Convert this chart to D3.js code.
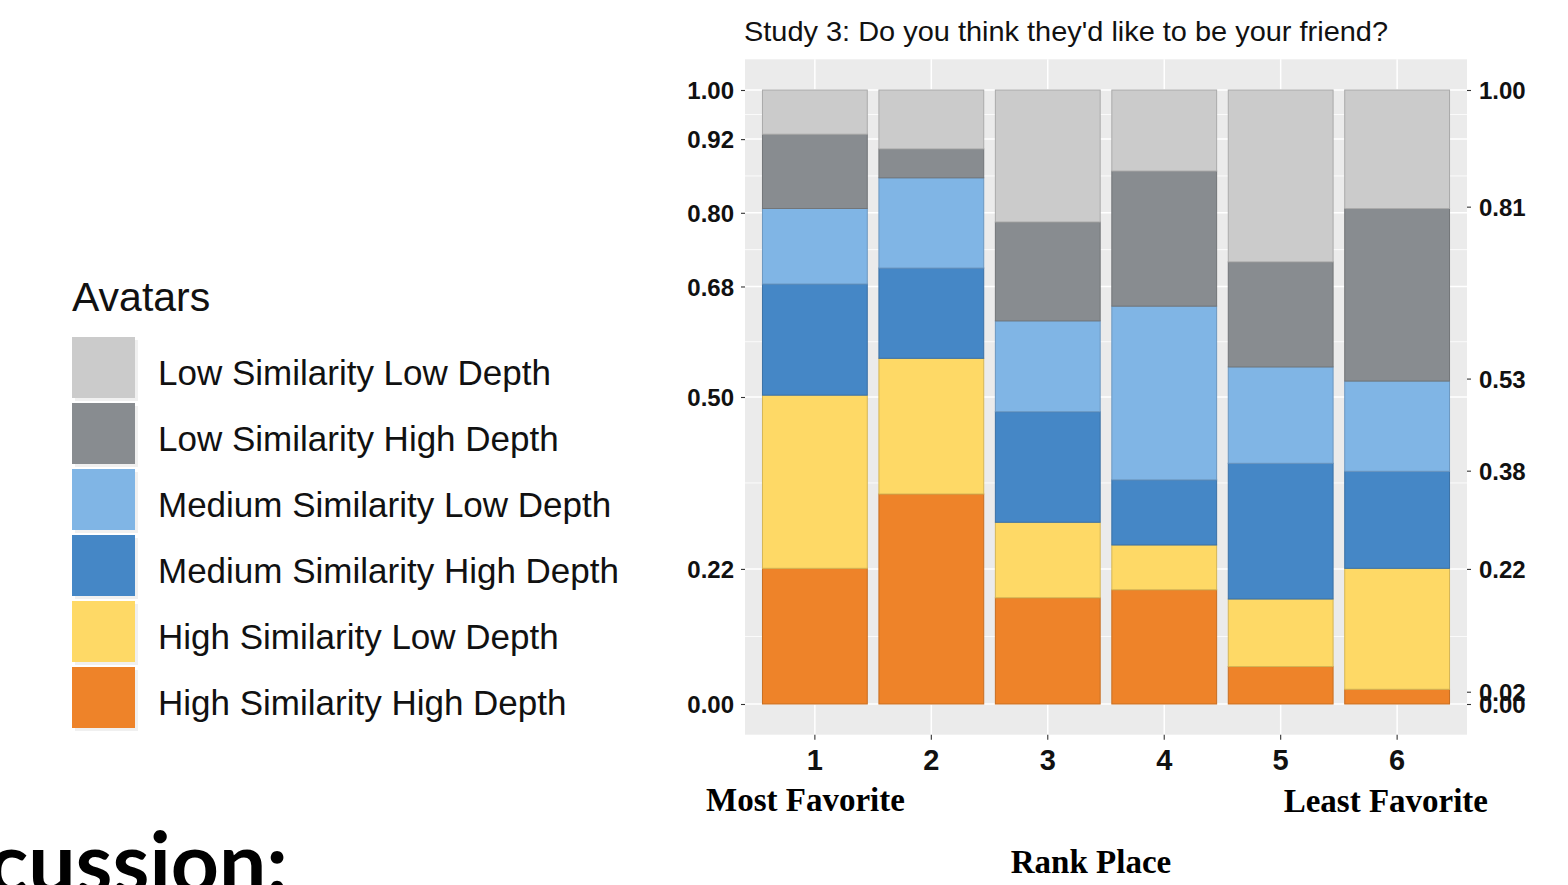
<!DOCTYPE html>
<html>
<head>
<meta charset="utf-8">
<script src="https://cdn.jsdelivr.net/npm/d3@7"></script>
<style>
  html, body { margin: 0; padding: 0; background: #ffffff; }
  svg { display: block; }
</style>
</head>
<body>
<svg id="chart" width="1568" height="885"></svg>
<script>
// ---------- data ----------
const ranks = ["1", "2", "3", "4", "5", "6"];
const seriesNames = [
  "High Similarity High Depth",
  "High Similarity Low Depth",
  "Medium Similarity High Depth",
  "Medium Similarity Low Depth",
  "Low Similarity High Depth",
  "Low Similarity Low Depth"
];
const hsHighDepth = [0.221, 0.342, 0.173, 0.186, 0.061, 0.024];
const hsLowDepth  = [0.282, 0.221, 0.123, 0.073, 0.110, 0.197];
const msHighDepth = [0.181, 0.147, 0.180, 0.106, 0.221, 0.158];
const msLowDepth  = [0.123, 0.147, 0.148, 0.283, 0.157, 0.147];
const lsHighDepth = [0.121, 0.047, 0.161, 0.220, 0.171, 0.281];
const lsLowDepth  = [0.072, 0.096, 0.215, 0.132, 0.280, 0.193];
const seriesColors = ["#EE8329", "#FED966", "#4587C6", "#80B5E5", "#888C90", "#CBCBCB"];
const leftTicks  = [0.00, 0.22, 0.50, 0.68, 0.80, 0.92, 1.00];
const rightTicks = [0.00, 0.02, 0.22, 0.38, 0.53, 0.81, 1.00];
const titleText = "Study 3: Do you think they'd like to be your friend?";
const legendTitle = "Avatars";
const xTitle = "Rank Place";
const leftNote = "Most Favorite";
const rightNote = "Least Favorite";
const slideText = "Discussion:";

// ---------- build table ----------
const seriesValues = [hsHighDepth, hsLowDepth, msHighDepth, msLowDepth, lsHighDepth, lsLowDepth];
const table = ranks.map((r, i) => {
  const row = { rank: r };
  seriesNames.forEach((s, j) => { row[s] = seriesValues[j][i]; });
  return row;
});
const stacked = d3.stack().keys(seriesNames)(table);
const color = d3.scaleOrdinal().domain(seriesNames).range(seriesColors);

// ---------- layout ----------
const svg = d3.select("#chart");
const panel = { left: 745, right: 1467 };
const y = d3.scaleLinear().domain([0, 1]).range([704, 90]);
const panelTop = y(1.05), panelBottom = y(-0.05);
const x = d3.scaleBand().domain(ranks).range([panel.left, panel.right])
  .paddingInner(0.1).paddingOuter(0.15);

// panel background
svg.append("rect")
  .attr("x", panel.left).attr("y", panelTop)
  .attr("width", panel.right - panel.left).attr("height", panelBottom - panelTop)
  .attr("fill", "#EBEBEB");

// minor horizontal gridlines (midpoints between breaks)
const minor = d3.pairs(leftTicks).map(([a, b]) => (a + b) / 2);
svg.append("g").selectAll("line").data(minor).join("line")
  .attr("x1", panel.left).attr("x2", panel.right)
  .attr("y1", d => y(d)).attr("y2", d => y(d))
  .attr("stroke", "#ffffff").attr("stroke-width", 0.8);
// major horizontal gridlines
svg.append("g").selectAll("line").data(leftTicks).join("line")
  .attr("x1", panel.left).attr("x2", panel.right)
  .attr("y1", d => y(d)).attr("y2", d => y(d))
  .attr("stroke", "#ffffff").attr("stroke-width", 1.5);
// major vertical gridlines
svg.append("g").selectAll("line").data(ranks).join("line")
  .attr("x1", d => x(d) + x.bandwidth() / 2).attr("x2", d => x(d) + x.bandwidth() / 2)
  .attr("y1", panelTop).attr("y2", panelBottom)
  .attr("stroke", "#ffffff").attr("stroke-width", 1.5);

// bars
svg.append("g").selectAll("g").data(stacked).join("g")
  .attr("fill", d => color(d.key))
  .attr("stroke", d => d3.color(color(d.key)).darker(0.5))
  .attr("stroke-width", 1)
  .selectAll("rect").data(d => d).join("rect")
  .attr("x", d => x(d.data.rank))
  .attr("width", x.bandwidth())
  .attr("y", d => y(d[1]))
  .attr("height", d => y(d[0]) - y(d[1]));

// axes
const fmt = d3.format(".2f");
function styleAxis(g) {
  g.select(".domain").remove();
  g.selectAll(".tick line").attr("stroke", "#333333").attr("stroke-width", 1.1);
  g.selectAll(".tick text")
    .attr("fill", "#111111")
    .style("font-family", "'Liberation Sans', Arial, sans-serif")
    .style("font-weight", "bold");
}
svg.append("g").attr("transform", `translate(${panel.left},0)`)
  .call(d3.axisLeft(y).tickValues(leftTicks).tickFormat(fmt).tickSize(4).tickPadding(7))
  .call(styleAxis)
  .call(g => g.selectAll(".tick text").style("font-size", "24px").attr("dy", "0.36em"));
svg.append("g").attr("transform", `translate(${panel.right},0)`)
  .call(d3.axisRight(y).tickValues(rightTicks).tickFormat(fmt).tickSize(4).tickPadding(8))
  .call(styleAxis)
  .call(g => g.selectAll(".tick text").style("font-size", "24px").attr("dy", "0.36em"));
svg.append("g").attr("transform", `translate(0,${panelBottom})`)
  .call(d3.axisBottom(x).tickSize(5).tickPadding(0))
  .call(styleAxis)
  .call(g => g.selectAll(".tick text").style("font-size", "29px").attr("y", 35).attr("dy", 0));

// title
svg.append("text")
  .attr("x", 744).attr("y", 41)
  .attr("textLength", 644).attr("lengthAdjust", "spacingAndGlyphs")
  .style("font-family", "'Liberation Sans', Arial, sans-serif")
  .style("font-size", "28px").attr("fill", "#111")
  .text(titleText);

// x notes & title (serif bold)
const serif = "'Liberation Serif', 'Times New Roman', serif";
svg.append("text").attr("x", 706).attr("y", 811)
  .style("font-family", serif).style("font-weight", "bold").style("font-size", "33px")
  .text(leftNote);
svg.append("text").attr("x", 1488).attr("y", 812).attr("text-anchor", "end")
  .style("font-family", serif).style("font-weight", "bold").style("font-size", "33px")
  .text(rightNote);
svg.append("text").attr("x", 1091).attr("y", 873).attr("text-anchor", "middle")
  .style("font-family", serif).style("font-weight", "bold").style("font-size", "33px")
  .text(xTitle);

// legend
const legend = svg.append("g");
legend.append("text").attr("x", 72).attr("y", 311)
  .style("font-family", "'Liberation Sans', Arial, sans-serif").style("font-size", "41px")
  .attr("fill", "#111").text(legendTitle);
const legendOrder = seriesNames.slice().reverse();
const item = legend.selectAll("g.item").data(legendOrder).join("g")
  .attr("class", "item")
  .attr("transform", (d, i) => `translate(72,${337 + i * 66})`);
item.append("rect").attr("x", 3).attr("y", 3).attr("width", 63).attr("height", 61).attr("fill", "#F0F0F0");
item.append("rect").attr("x", 0).attr("y", 0).attr("width", 63).attr("height", 61).attr("fill", d => color(d));
item.append("text").attr("x", 86).attr("y", 48)
  .style("font-family", "'Liberation Sans', Arial, sans-serif").style("font-size", "35px")
  .attr("fill", "#111").text(d => d);

// slide text fragment at bottom-left (partially off-canvas as in the reference)
svg.append("text").attr("x", 288).attr("y", 893).attr("text-anchor", "end")
  .style("font-family", "Lato, 'Open Sans', sans-serif").style("font-weight", "bold").style("font-size", "84px")
  .attr("fill", "#000").text(slideText);
</script>
</body>
</html>
